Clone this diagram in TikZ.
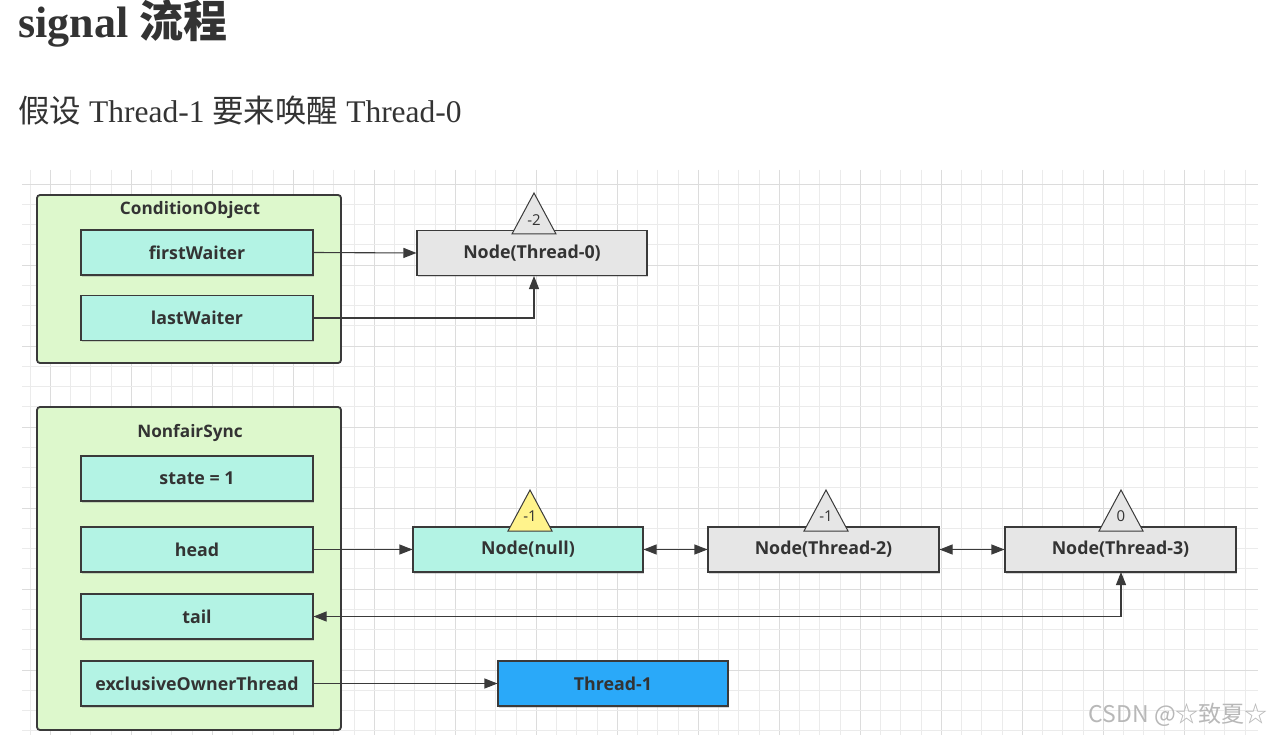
\documentclass[tikz,border=0pt]{standalone}
\usepackage{fontspec}
\setmainfont{Liberation Serif}
\newfontfamily\cjk{Noto Sans CJK SC}
\newfontfamily\lab{Open Sans}
\usetikzlibrary{arrows.meta,shadows}
\definecolor{bordc}{HTML}{3A3A3A}
\definecolor{contfill}{HTML}{DDF8CC}
\definecolor{mint}{HTML}{B3F3E4}
\definecolor{nodegray}{HTML}{E6E6E6}
\definecolor{triyellow}{HTML}{FFF38C}
\definecolor{blueth}{HTML}{2AA9F9}
\definecolor{txt}{HTML}{333333}
\definecolor{gridl}{HTML}{EBEBEB}
\definecolor{gridd}{HTML}{DCDCDC}
\tikzset{
  container/.style={draw=bordc,line width=1.8pt,fill=contfill,rounded corners=3pt,minimum width=304pt,inner sep=0pt},
  field/.style={draw=bordc,line width=1.1pt,minimum width=232pt,minimum height=45pt,inner sep=0pt,
     font=\lab\bfseries\fontsize{17.8}{19}\selectfont,text=txt,
     drop shadow={shadow xshift=0.8pt,shadow yshift=-1.5pt,opacity=0.3}},
  mintbox/.style={field,fill=mint},
  graybox/.style={field,fill=nodegray,minimum width=231pt},
  bluebox/.style={field,fill=blueth,minimum width=230pt},
  tri/.style={draw=bordc,line width=1pt},
  trilabel/.style={font=\lab\fontsize{15}{16}\selectfont,text=txt,inner sep=0pt},
  conn/.style={draw=bordc,line width=1.1pt,-{Triangle[length=13pt,width=10pt]}},
  dconn/.style={draw=bordc,line width=1.1pt,{Triangle[length=13pt,width=10pt]}-{Triangle[length=13pt,width=10pt]}},
  ctitle/.style={font=\lab\bfseries\fontsize{17.2}{18}\selectfont,text=txt,inner sep=0pt}
}
\begin{document}
\begin{tikzpicture}[x=1pt,y=-1pt]
\fill[white] (0,0) rectangle (1273,735);
\useasboundingbox (0,0) rectangle (1273,735);
% grid
\foreach \i in {0,...,60} {
  \pgfmathsetmacro{\gx}{30.05+\i*20.25}
  \pgfmathtruncatemacro{\md}{mod(\i,4)}
  \ifnum\md=1 \draw[gridd,line width=0.9pt] (\gx,170) -- (\gx,735);
  \else \draw[gridl,line width=0.8pt] (\gx,170) -- (\gx,735); \fi
}
\foreach \j in {0,...,27} {
  \pgfmathsetmacro{\gy}{184+\j*20.25}
  \pgfmathtruncatemacro{\md}{mod(\j,4)}
  \ifnum\md=0 \draw[gridd,line width=0.9pt] (22,\gy) -- (1258,\gy);
  \else \draw[gridl,line width=0.8pt] (22,\gy) -- (1258,\gy); \fi
}
% title
\node[anchor=base west,inner sep=0pt,text=txt] (title) at (18,38)
  {\fontsize{44}{48}\selectfont\bfseries signal {\cjk\bfseries 流程}};
\node[anchor=base west,inner sep=0pt,text=txt] (sub) at (18,123)
  {\fontsize{31.5}{34}\selectfont{\cjk 假设} Thread-1 {\cjk 要来唤醒} Thread-0};
% ConditionObject
\node[container,minimum height=168pt] (co) at (189,279) {};
\node[ctitle] (cot) at (190,210) {ConditionObject};
\node[mintbox] (fw) at (197,252.5) {firstWaiter};
\node[mintbox] (lw) at (197,318) {lastWaiter};
\node[graybox,minimum width=230pt] (nt0) at (532,253) {Node(Thread-0)};
\draw[tri,fill=nodegray] (512,234) -- (534,193) -- (556,234) -- cycle;
\node[trilabel] (t0) at (534,220) {-2};
% NonfairSync
\node[container,minimum height=323pt] (ns) at (189,568.5) {};
\node[ctitle] (nst) at (190,433) {NonfairSync};
\node[mintbox] (st) at (197,478.5) {state = 1};
\node[mintbox] (hd) at (197,549.5) {head};
\node[mintbox] (tl) at (197,616.5) {tail};
\node[mintbox] (ex) at (197,683.5) {exclusiveOwnerThread};
\node[mintbox,minimum width=230pt] (nn) at (528,549.5) {Node(null)};
\node[graybox] (nt2) at (823.5,549.5) {Node(Thread-2)};
\node[graybox] (nt3) at (1120.5,549.5) {Node(Thread-3)};
\node[bluebox] (t1) at (613,683.5) {Thread-1};
\draw[tri,fill=triyellow] (508,531) -- (530,490) -- (552,531) -- cycle;
\node[trilabel] (tn) at (530,516) {-1};
\draw[tri,fill=nodegray] (804,531) -- (826,490) -- (848,531) -- cycle;
\node[trilabel] (t2) at (826,516) {-1};
\draw[tri,fill=nodegray] (1099,531) -- (1121,490) -- (1143,531) -- cycle;
\node[trilabel] (t3) at (1121,516) {0};
% connectors
\draw[conn] (fw.east) -- (nt0.west);
\draw[conn] (lw.east) -- (534,318) -- (534,276);
\draw[conn] (hd.east) -- (nn.west);
\draw[dconn] (nn.east) -- (nt2.west);
\draw[dconn] (nt2.east) -- (nt3.west);
\draw[dconn] (tl.east) -- (1121,616.5) -- (1121,572);
\draw[conn] (ex.east) -- (t1.west);
% watermark
\node[anchor=base east,inner sep=0pt,text=black!28] (wm) at (1268,722)
  {\cjk\fontsize{23}{26}\selectfont CSDN @☆致夏☆};
\end{tikzpicture}
\end{document}
